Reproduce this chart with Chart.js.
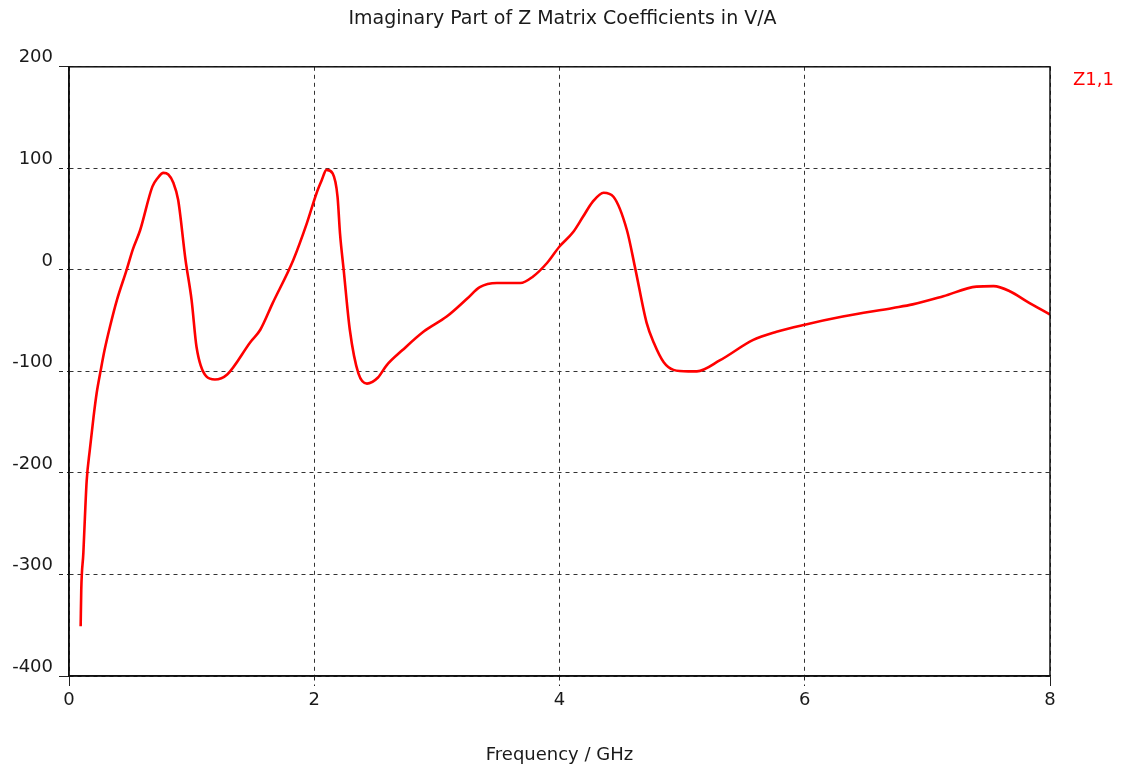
<!DOCTYPE html>
<html>
<head>
<meta charset="utf-8">
<script src="https://cdn.jsdelivr.net/npm/chart.js@4"></script>
<style>
    html, body { margin: 0; padding: 0; background: #fff; }
    .chart-wrap { width: 1125px; height: 770px; }
</style>
</head>
<body>
<div class="chart-wrap"><canvas id="chart"></canvas></div>
<script>
    /*
    ----------------------------------
         Z matrix data (imag part)
    ----------------------------------
    */

    var freqGHz = [
        0.095, 0.10, 0.117, 0.13, 0.144, 0.17, 0.20, 0.226, 0.26, 0.29,
        0.334, 0.39, 0.47, 0.52, 0.58, 0.68, 0.72, 0.77, 0.81, 0.85,
        0.89, 0.95, 1.0, 1.04, 1.12, 1.19, 1.29, 1.48, 1.56, 1.66,
        1.83, 1.94, 2.02, 2.06, 2.10, 2.15, 2.19, 2.21, 2.24, 2.29,
        2.36, 2.43, 2.52, 2.59, 2.72, 2.89, 3.08, 3.25, 3.35, 3.49,
        3.68, 3.78, 3.90, 4.0, 4.11, 4.19, 4.27, 4.36, 4.44, 4.55,
        4.62, 4.71, 4.77, 4.85, 4.93, 5.05, 5.12, 5.31, 5.58, 5.77,
        6.0, 6.31, 6.72, 6.88, 7.13, 7.40, 7.54, 7.68, 7.81, 8.0
    ];

    var imagZ11 = [
        -351, -315, -279, -243, -208, -177, -145, -121, -98, -79,
        -56, -30, 0, 20, 39, 82, 90, 95.5, 94, 86,
        69, 10, -30, -76, -105, -108, -103, -71, -59, -33,
        10, 46, 76, 88, 98.5, 95, 72, 36, 0, -59,
        -102, -112, -106, -94, -79, -61, -46, -28, -17, -13,
        -13, -7, 7, 23, 37, 52, 67, 76, 72, 39,
        0, -52, -72, -91, -98.5, -100, -100, -89, -69, -61,
        -54, -46, -37.5, -34, -26, -16.5, -16, -21.5, -31, -44
    ];

    var xTicks = [0, 2, 4, 6, 8];
    var yTicks = [-400, -300, -200, -100, 0, 100, 200];

    var points = freqGHz.map((f, i) => ({ x: f, y: imagZ11[i] }));

    var fontFamily = '"DejaVu Sans", Tahoma, Verdana, sans-serif';
    var textColor = '#1a1a1a';

    /*
    ----------------------------------
         Frame + curve label plugin
    ----------------------------------
    */

    const plotFrame = {
        id: 'plotFrame',
        afterDraw(chart) {
            const ctx = chart.ctx;
            const area = chart.chartArea;

            ctx.save();
            ctx.strokeStyle = '#111';
            ctx.lineWidth = 1.5;
            ctx.strokeRect(area.left, area.top, area.right - area.left, area.bottom - area.top);

            // curve name next to the top right corner
            const ds = chart.data.datasets[0];
            ctx.fillStyle = ds.borderColor;
            ctx.font = '18px ' + fontFamily;
            ctx.textAlign = 'left';
            ctx.textBaseline = 'middle';
            ctx.fillText(ds.label, area.right + 23, area.top + 14);
            ctx.restore();
        }
    };

    const isEdge = (ctx, ticks) => {
        return ctx.tick && (ctx.tick.value === ticks[0] || ctx.tick.value === ticks[ticks.length - 1]);
    };

    new Chart(document.getElementById('chart'), {
        type: 'line',
        data: {
            datasets: [{
                label: 'Z1,1',
                data: points,
                borderColor: '#ff0000',
                borderWidth: 2.6,
                pointRadius: 0,
                cubicInterpolationMode: 'monotone',
                fill: false
            }]
        },
        options: {
            responsive: true,
            maintainAspectRatio: false,
            animation: false,
            layout: {
                padding: 0
            },
            plugins: {
                legend: { display: false },
                tooltip: { enabled: false },
                title: {
                    display: true,
                    text: 'Imaginary Part of Z Matrix Coefficients in V/A',
                    color: textColor,
                    font: { family: fontFamily, size: 19, weight: 'normal' },
                    padding: { top: 8, bottom: 36 }
                }
            },
            scales: {
                x: {
                    type: 'linear',
                    min: 0,
                    max: 8,
                    afterBuildTicks: (scale) => {
                        scale.ticks = xTicks.map(v => ({ value: v }));
                    },
                    afterFit: (scale) => {
                        scale.height = 94;
                    },
                    ticks: {
                        color: textColor,
                        padding: 4,
                        font: { family: fontFamily, size: 18 }
                    },
                    grid: {
                        color: '#333',
                        lineWidth: 1,
                        tickLength: 10,
                        tickColor: '#222',
                        tickBorderDash: (ctx) => isEdge(ctx, xTicks) ? [] : [4, 4]
                    },
                    border: {
                        display: true,
                        color: '#111',
                        width: 1.5,
                        dash: [4, 4]
                    },
                    title: {
                        display: true,
                        text: 'Frequency / GHz',
                        color: textColor,
                        font: { family: fontFamily, size: 18 },
                        padding: { top: 0, bottom: 4 }
                    }
                },
                y: {
                    min: -400,
                    max: 200,
                    afterBuildTicks: (scale) => {
                        scale.ticks = yTicks.map(v => ({ value: v }));
                    },
                    afterFit: (scale) => {
                        scale.width = 69;
                    },
                    ticks: {
                        color: textColor,
                        padding: 6,
                        labelOffset: -9,
                        font: { family: fontFamily, size: 18 }
                    },
                    grid: {
                        color: '#333',
                        lineWidth: 1,
                        tickLength: 10,
                        tickColor: '#222',
                        tickBorderDash: (ctx) => isEdge(ctx, yTicks) ? [] : [4, 4]
                    },
                    border: {
                        display: true,
                        color: '#111',
                        width: 1.5,
                        dash: [4, 4]
                    }
                },
                // empty strip on the right that holds the curve name
                yRight: {
                    position: 'right',
                    min: -400,
                    max: 200,
                    afterFit: (scale) => {
                        scale.width = 75;
                    },
                    ticks: { display: false },
                    grid: { display: false },
                    border: { display: false }
                }
            }
        },
        plugins: [plotFrame]
    });
</script>
</body>
</html>
